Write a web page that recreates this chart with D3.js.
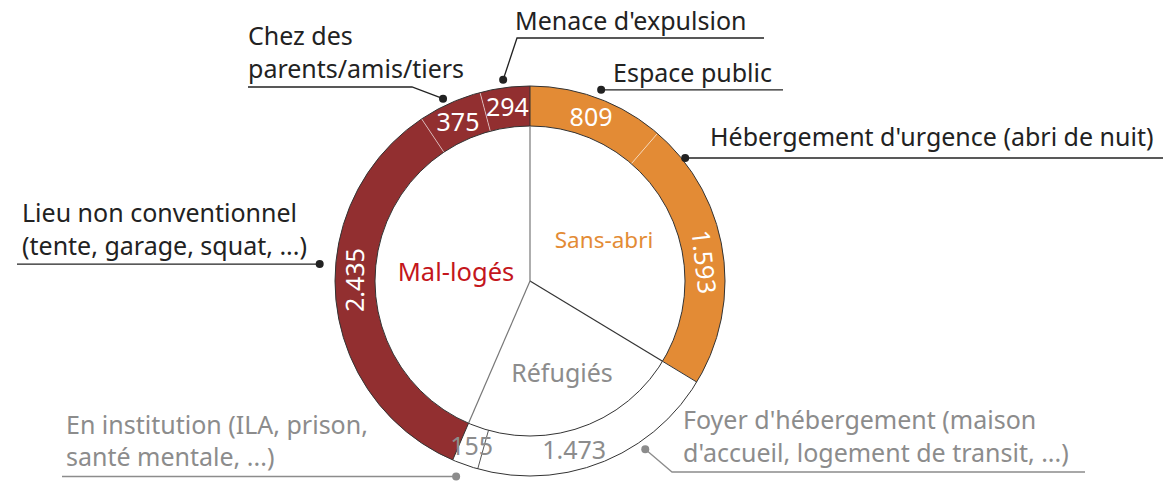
<!DOCTYPE html>
<html>
<head>
<meta charset="utf-8">
<script src="https://cdn.jsdelivr.net/npm/d3@7"></script>
<style>
  body { margin: 0; background: #fff; }
  svg { display: block; font-family: "Noto Sans", Lato, sans-serif; }
</style>
</head>
<body>
<div id="chart"></div>
<script>
// données
const categories = ["Sans-abri", "Réfugiés", "Mal-logés"];
const subLabels = [
    ["Espace public"],
    ["Hébergement d'urgence (abri de nuit)"],
    ["Foyer d'hébergement (maison", "d'accueil, logement de transit, ...)"],
    ["En institution (ILA, prison,", "santé mentale, ...)"],
    ["Lieu non conventionnel", "(tente, garage, squat, ...)"],
    ["Chez des", "parents/amis/tiers"],
    ["Menace d'expulsion"]
];
const subValues = [809, 1593, 1473, 155, 2435, 375, 294];
const subGroups = ["Sans-abri", "Sans-abri", "Réfugiés", "Réfugiés", "Mal-logés", "Mal-logés", "Mal-logés"];

const width = 1165;
const height = 490;
const cx = 530, cy = 281;
const rInner = 155, rOuter = 195;

const catFill = { "Sans-abri": "#e38b35", "Réfugiés": "#ffffff", "Mal-logés": "#922f30" };
const catLabelColor = { "Sans-abri": "#e38b35", "Réfugiés": "#8c8c8c", "Mal-logés": "#c4161c" };
const catTextColor = { "Sans-abri": "#222", "Réfugiés": "#8c8c8c", "Mal-logés": "#222" };
const numColor = { "Sans-abri": "#fff", "Réfugiés": "#8c8c8c", "Mal-logés": "#fff" };

const fr = d3.formatLocale({ decimal: ",", thousands: ".", grouping: [3], currency: ["", " €"] });
const fmt = fr.format(",");

// mise en page des étiquettes (angle du point, rayon, coude, fin de ligne, texte)
const callouts = [
    { dotA: null, dotR: 204, elbow: null, endX: 783, tx: 613, ty: [82] },
    { dotA: 51.6, dotR: 198, elbow: null, endX: 1163, tx: 710, ty: [146] },
    { dotA: 145.6, dotR: 204, elbow: [672, 472], endX: 1085, tx: 683, ty: [429, 462] },
    { dotA: 200.7, dotR: 209, elbow: null, endX: 62, tx: 66, ty: [434, 466] },
    { dotA: 274.6, dotR: 211, elbow: null, endX: 17, tx: 22, ty: [222, 255] },
    { dotA: 334.5, dotR: 202, elbow: [412, 87], endX: 248, tx: 248, ty: [45, 78] },
    { dotA: 352.4, dotR: 203, elbow: [517, 38], endX: 764, tx: 515, ty: [30] }
];
const numNudge = [0, 2.7, 7, 0, 5.5, 0, 0];
const catLabelPos = { "Mal-logés": [456, 281], "Sans-abri": [604, 248], "Réfugiés": [562, 382] };
const catLabelSize = { "Mal-logés": 25.5, "Sans-abri": 22.5, "Réfugiés": 25 };

const svg = d3.select("#chart").append("svg").attr("width", width).attr("height", height);
const g = svg.append("g").attr("transform", `translate(${cx},${cy})`);

const pie = d3.pie().sort(null).value(d => d.value);
const ringData = pie(subValues.map((v, i) => ({ value: v, group: subGroups[i], i })));

const catTotals = categories.map(c => ({ cat: c, value: d3.sum(subValues.filter((v, i) => subGroups[i] === c)) }));
const catArcs = pie(catTotals);

const ringArc = d3.arc().innerRadius(rInner).outerRadius(rOuter);

// anneau
g.selectAll("path.ring")
    .data(ringData)
    .enter()
    .append("path")
    .attr("class", "ring")
    .attr("d", ringArc)
    .attr("fill", d => catFill[d.data.group]);

const pt = (a, r) => [Math.sin(a) * r, -Math.cos(a) * r];

// séparateurs internes à une catégorie
ringData.forEach((d, i) => {
    if (i === 0) return;
    const prev = ringData[i - 1];
    if (prev.data.group !== d.data.group) return;
    const [x1, y1] = pt(d.startAngle, rInner);
    const [x2, y2] = pt(d.startAngle, rOuter);
    g.append("line")
        .attr("x1", x1).attr("y1", y1).attr("x2", x2).attr("y2", y2)
        .attr("stroke", d.data.group === "Réfugiés" ? "#555" : "rgba(255,255,255,0.55)")
        .attr("stroke-width", 1);
});

// contours
g.append("circle").attr("r", rOuter).attr("fill", "none").attr("stroke", "#333").attr("stroke-width", 1);
g.append("circle").attr("r", rInner).attr("fill", "none").attr("stroke", "#333").attr("stroke-width", 1);

// rayons entre catégories
const spokeColor = ["#777", "#333", "#777"];
catArcs.forEach((d, i) => {
    const [x1, y1] = pt(d.startAngle, rInner);
    const [x2, y2] = pt(d.startAngle, rOuter);
    g.append("line")
        .attr("x1", 0).attr("y1", 0).attr("x2", x1).attr("y2", y1)
        .attr("stroke", spokeColor[i]).attr("stroke-width", 1.2);
    g.append("line")
        .attr("x1", x1).attr("y1", y1).attr("x2", x2).attr("y2", y2)
        .attr("stroke", "#333").attr("stroke-width", 1);
});

// valeurs sur l'anneau
ringData.forEach((d, i) => {
    const mid = (d.startAngle + d.endAngle) / 2 + numNudge[i] * Math.PI / 180;
    const [x, y] = pt(mid, (rInner + rOuter) / 2);
    let deg = mid * 180 / Math.PI;
    let rot = 0;
    if (Math.abs(Math.sin(mid)) > 0.9) rot = deg > 180 ? deg - 360 : deg;
    g.append("text")
        .attr("transform", `translate(${x},${y}) rotate(${rot})`)
        .attr("text-anchor", "middle")
        .attr("dy", "0.36em")
        .attr("fill", numColor[d.data.group])
        .style("font-size", "25px")
        .text(fmt(d.data.value));
});

// noms des catégories
categories.forEach(c => {
    svg.append("text")
        .attr("x", catLabelPos[c][0])
        .attr("y", catLabelPos[c][1])
        .attr("text-anchor", "middle")
        .attr("fill", catLabelColor[c])
        .style("font-size", `${catLabelSize[c]}px`)
        .text(c);
});

// étiquettes avec traits de rappel
ringData.forEach((d, i) => {
    const c = callouts[i];
    const a = (c.dotA === null ? (d.startAngle + d.endAngle) / 2 * 180 / Math.PI : c.dotA) * Math.PI / 180;
    const [dx, dy] = pt(a, c.dotR);
    const x0 = cx + dx, y0 = cy + dy;
    const col = d.data.group === "Réfugiés" ? "#8c8c8c" : "#222";
    const pts = [[x0, y0]];
    if (c.elbow) pts.push(c.elbow);
    const last = pts[pts.length - 1];
    pts.push([c.endX, last[1]]);
    svg.append("path")
        .attr("d", d3.line()(pts))
        .attr("fill", "none")
        .attr("stroke", col)
        .attr("stroke-width", 1.3);
    svg.append("circle").attr("cx", x0).attr("cy", y0).attr("r", 4).attr("fill", col);

    const t = svg.append("text")
        .attr("fill", catTextColor[d.data.group])
        .style("font-size", "25px");
    subLabels[i].forEach((line, j) => {
        t.append("tspan").attr("x", c.tx).attr("y", c.ty[j]).text(line);
    });
});
</script>
</body>
</html>
